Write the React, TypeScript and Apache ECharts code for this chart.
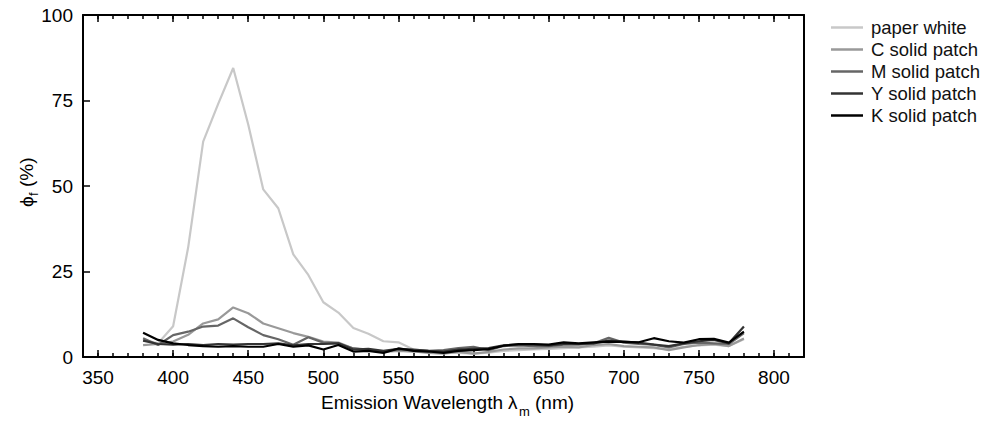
import React, { useEffect, useRef } from "react";
import * as echarts from "echarts";

const wavelengths = [380, 390, 400, 410, 420, 430, 440, 450, 460, 470, 480, 490, 500, 510, 520, 530, 540, 550, 560, 570, 580, 590, 600, 610, 620, 630, 640, 650, 660, 670, 680, 690, 700, 710, 720, 730, 740, 750, 760, 770, 780];

const paperWhite = [5.0, 4.0, 9.0, 32, 63, 74, 84.5, 68, 49, 43.5, 30, 24, 16, 13, 8.5, 6.8, 4.6, 4.3, 2.2, 1.8, 1.5, 1.2, 1.0, 1.3, 1.8, 2.0, 2.2, 2.4, 2.6, 2.8, 3.0, 3.4, 3.0, 2.8, 2.6, 2.2, 3.0, 3.4, 3.6, 3.2, 5.2];
const cPatch = [3.5, 3.8, 4.5, 6.5, 9.8, 11, 14.5, 12.8, 9.8, 8.4, 7.0, 5.9, 4.5, 4.2, 2.5, 2.0, 1.5, 1.8, 1.6, 1.2, 1.0, 1.5, 1.0, 1.5, 2.2, 2.5, 2.5, 2.8, 3.0, 2.8, 3.5, 3.8, 3.2, 3.0, 2.8, 2.0, 2.8, 3.5, 3.8, 3.2, 5.4];
const mPatch = [5.5, 3.5, 6.4, 7.4, 8.9, 9.2, 11.3, 8.7, 6.4, 5.2, 3.6, 5.8, 4.2, 4.0, 2.5, 2.2, 1.5, 2.2, 2.0, 1.8, 2.0, 2.6, 3.0, 2.0, 3.2, 3.4, 3.2, 3.2, 3.6, 3.6, 4.0, 5.6, 4.2, 3.8, 3.6, 2.8, 3.8, 4.2, 4.0, 3.8, 7.0];
const yPatch = [4.8, 3.8, 3.6, 3.8, 3.5, 3.8, 3.6, 3.8, 3.8, 4.0, 3.4, 3.8, 3.8, 4.0, 2.2, 2.4, 1.8, 2.4, 2.2, 1.8, 1.6, 2.2, 2.4, 2.6, 3.4, 3.6, 3.6, 3.4, 3.8, 3.8, 4.0, 4.8, 4.5, 4.2, 3.6, 3.2, 4.0, 4.6, 5.0, 4.0, 8.9];
const kPatch = [7.1, 5.0, 4.0, 3.5, 3.2, 3.0, 3.2, 3.0, 3.0, 3.8, 3.0, 3.4, 2.2, 3.5, 1.6, 1.8, 1.2, 2.5, 1.8, 1.6, 1.2, 1.8, 2.0, 2.3, 3.3, 3.8, 3.8, 3.6, 4.3, 4.0, 4.3, 4.5, 4.4, 4.3, 5.5, 4.6, 4.2, 5.2, 5.3, 4.2, 7.4];

const seriesNames = ["paper white", "C solid patch", "M solid patch", "Y solid patch", "K solid patch"];
const seriesColors = ["#c8c8c8", "#999999", "#666666", "#333333", "#000000"];
const seriesValues = [paperWhite, cPatch, mPatch, yPatch, kPatch];

const xLabelValues = [350, 400, 450, 500, 550, 600, 650, 700, 750, 800];
const yTickValues = [0, 25, 50, 75, 100];

const FONT = "Liberation Sans, Arial, Helvetica, sans-serif";

export default function App() {
  const ref = useRef<HTMLDivElement>(null);

  useEffect(() => {
    document.body.style.margin = "0";
    if (!ref.current) return;
    const chart = echarts.init(ref.current, undefined, { renderer: "svg" });

    const axisLineStyle = { color: "#000", width: 2 };
    const baseX = {
      type: "value",
      min: 340,
      max: 820,
      interval: 10,
      splitLine: { show: false },
    };

    chart.setOption({
      animation: false,
      backgroundColor: "#fff",
      textStyle: { fontFamily: FONT },
      grid: { left: 83, top: 15, right: 179, bottom: 66, containLabel: false },
      legend: {
        orient: "vertical",
        left: 826,
        top: 13,
        itemWidth: 32,
        itemHeight: 2.5,
        itemGap: 3,
        icon: "rect",
        data: seriesNames,
        textStyle: { fontSize: 18.5, color: "#111", fontFamily: FONT, padding: [0, 0, 0, 3] },
        selectedMode: false,
      },
      xAxis: [
        {
          ...baseX,
          position: "bottom",
          axisLine: { show: true, lineStyle: axisLineStyle, onZero: false },
          axisTick: { show: true, inside: true, length: 4, lineStyle: { color: "#000", width: 1.5 } },
          axisLabel: {
            show: true,
            customValues: xLabelValues,
            fontSize: 19,
            color: "#000",
            fontFamily: FONT,
            margin: 11,
          },
        },
        {
          ...baseX,
          position: "bottom",
          axisLine: { show: false, onZero: false },
          axisTick: { show: true, inside: true, length: 7, customValues: xLabelValues, lineStyle: { color: "#000", width: 1.5 } },
          axisLabel: { show: false },
        },
        {
          ...baseX,
          position: "top",
          axisLine: { show: true, lineStyle: axisLineStyle, onZero: false },
          axisTick: { show: true, inside: true, length: 4, lineStyle: { color: "#000", width: 1.5 } },
          axisLabel: { show: false },
        },
        {
          ...baseX,
          position: "top",
          axisLine: { show: false, onZero: false },
          axisTick: { show: true, inside: true, length: 7, customValues: xLabelValues, lineStyle: { color: "#000", width: 1.5 } },
          axisLabel: { show: false },
        },
      ],
      yAxis: [
        {
          type: "value",
          min: 0,
          max: 100,
          interval: 25,
          position: "left",
          splitLine: { show: false },
          axisLine: { show: true, lineStyle: axisLineStyle, onZero: false },
          axisTick: { show: true, inside: true, length: 7, customValues: yTickValues, lineStyle: { color: "#000", width: 1.5 } },
          axisLabel: { show: true, fontSize: 19, color: "#000", fontFamily: FONT, margin: 10 },
        },
        {
          type: "value",
          min: 0,
          max: 100,
          interval: 25,
          position: "right",
          splitLine: { show: false },
          axisLine: { show: true, lineStyle: axisLineStyle, onZero: false },
          axisTick: { show: false },
          axisLabel: { show: false },
        },
      ],
      graphic: [
        {
          type: "group",
          x: 321,
          y: 393,
          children: [
            { type: "text", x: 0, y: 0, style: { text: "Emission Wavelength", font: `19px ${FONT}`, fill: "#000" } },
            { type: "text", x: 187, y: 0, style: { text: "λ", font: `19px ${FONT}`, fill: "#000" } },
            { type: "text", x: 198, y: 12, style: { text: "m", font: `13px ${FONT}`, fill: "#000" } },
            { type: "text", x: 214, y: 0, style: { text: "(nm)", font: `19px ${FONT}`, fill: "#000" } },
          ],
        },
        {
          type: "group",
          x: 17,
          y: 207,
          rotation: Math.PI / 2,
          children: [
            { type: "text", x: 0, y: 0, style: { text: "ϕ", font: `19px ${FONT}`, fill: "#000" } },
            { type: "text", x: 11, y: 10, style: { text: "f", font: `13px ${FONT}`, fill: "#000" } },
            { type: "text", x: 20, y: 0, style: { text: "(%)", font: `19px ${FONT}`, fill: "#000" } },
          ],
        },
      ],
      series: seriesNames.map((name, i) => ({
        name,
        type: "line",
        xAxisIndex: 0,
        yAxisIndex: 0,
        data: wavelengths.map((w, j) => [w, seriesValues[i][j]]),
        symbol: "none",
        lineStyle: { color: seriesColors[i], width: 2.2 },
        itemStyle: { color: seriesColors[i] },
        z: 2 + i,
      })),
    });

    return () => chart.dispose();
  }, []);

  return (
    <div
      ref={ref}
      style={{ width: 983, height: 423, position: "fixed", left: 0, top: 0 }}
    />
  );
}
